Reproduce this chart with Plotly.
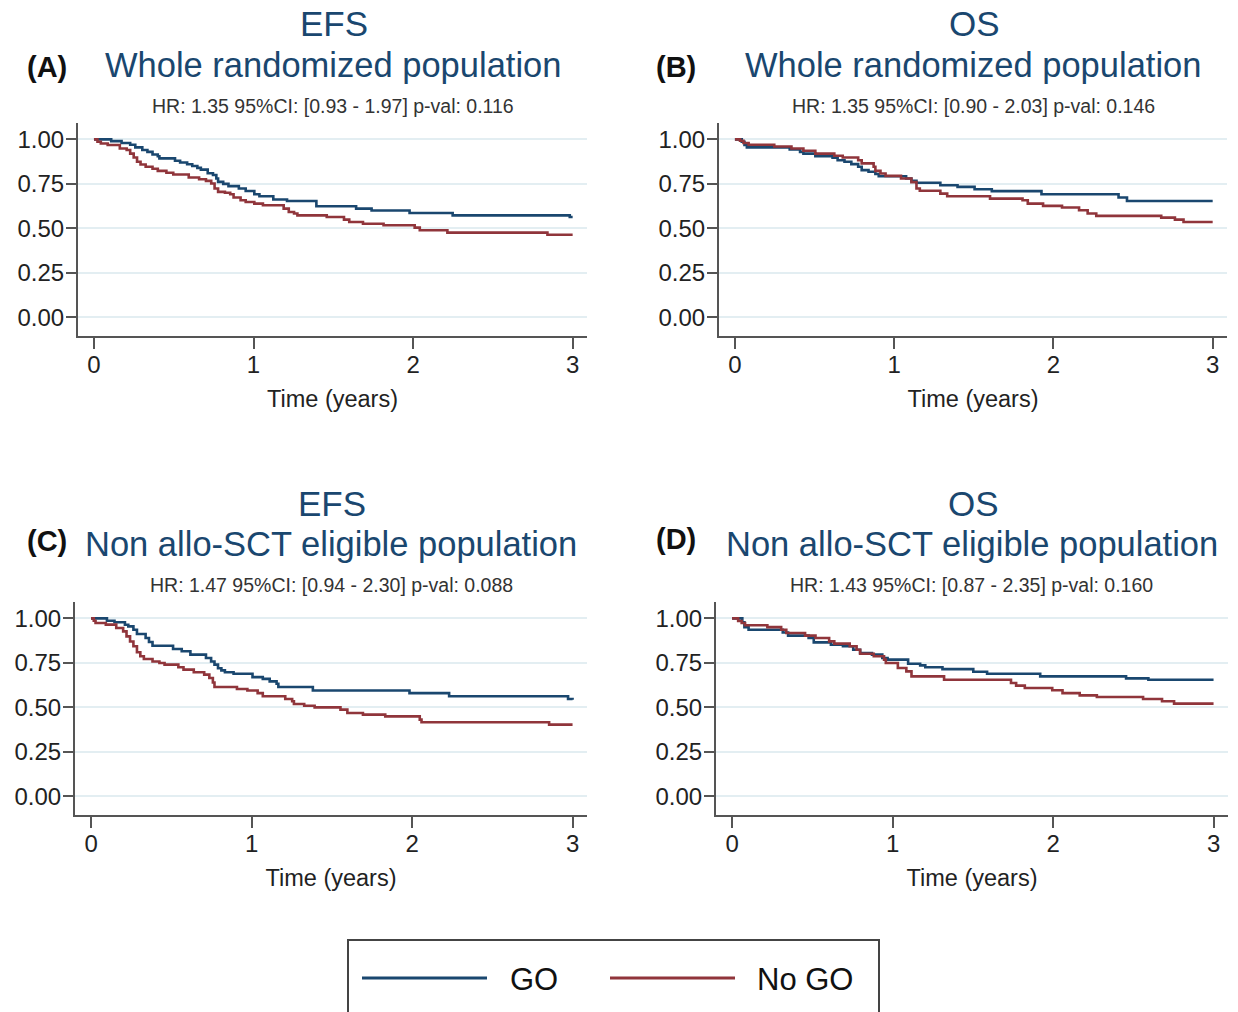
import plotly.graph_objects as go

# ---------------- data ----------------
# Panel A: EFS, whole randomized population
a_go_t = [0, 0.108, 0.173, 0.227, 0.259, 0.303, 0.335, 0.367, 0.40, 0.41, 0.508, 0.54, 0.584, 0.616, 0.648, 0.67, 0.713, 0.746, 0.767, 0.778, 0.81, 0.843, 0.908, 0.951, 1.005, 1.037, 1.124, 1.21, 1.394, 1.643, 1.74, 1.978, 2.248, 2.982, 3.0]
a_go_s = [1.0, 0.99, 0.98, 0.97, 0.955, 0.94, 0.93, 0.915, 0.905, 0.893, 0.88, 0.87, 0.86, 0.85, 0.84, 0.83, 0.81, 0.80, 0.78, 0.761, 0.75, 0.737, 0.724, 0.71, 0.692, 0.68, 0.662, 0.654, 0.624, 0.611, 0.60, 0.586, 0.573, 0.564, 0.564]
a_no_t = [0, 0.022, 0.043, 0.086, 0.162, 0.205, 0.227, 0.249, 0.27, 0.292, 0.324, 0.367, 0.40, 0.454, 0.497, 0.594, 0.659, 0.702, 0.735, 0.756, 0.778, 0.821, 0.854, 0.875, 0.919, 0.951, 1.005, 1.059, 1.189, 1.221, 1.254, 1.275, 1.459, 1.567, 1.60, 1.686, 1.815, 2.01, 2.042, 2.215, 2.842, 3.0]
a_no_s = [1.0, 0.987, 0.977, 0.968, 0.949, 0.94, 0.92, 0.898, 0.874, 0.859, 0.846, 0.835, 0.823, 0.812, 0.803, 0.786, 0.776, 0.767, 0.752, 0.724, 0.705, 0.70, 0.692, 0.673, 0.658, 0.648, 0.639, 0.63, 0.611, 0.592, 0.583, 0.573, 0.564, 0.549, 0.536, 0.526, 0.517, 0.504, 0.489, 0.476, 0.464, 0.464]

# Panel B: OS, whole randomized population
b_go_t = [0, 0.043, 0.06, 0.075, 0.344, 0.409, 0.43, 0.505, 0.613, 0.645, 0.688, 0.731, 0.774, 0.796, 0.839, 0.882, 0.903, 1.075, 1.108, 1.14, 1.29, 1.398, 1.505, 1.613, 1.925, 2.409, 2.462, 3.0]
b_go_s = [1.0, 0.987, 0.968, 0.955, 0.944, 0.93, 0.92, 0.906, 0.897, 0.883, 0.874, 0.861, 0.846, 0.827, 0.818, 0.805, 0.793, 0.78, 0.767, 0.756, 0.742, 0.733, 0.72, 0.709, 0.692, 0.673, 0.654, 0.654]
b_no_t = [0, 0.032, 0.054, 0.086, 0.247, 0.355, 0.43, 0.505, 0.624, 0.677, 0.774, 0.796, 0.871, 0.882, 0.914, 0.946, 1.043, 1.108, 1.14, 1.161, 1.29, 1.333, 1.602, 1.806, 1.839, 1.935, 2.054, 2.161, 2.215, 2.269, 2.677, 2.763, 2.817, 3.0]
b_no_s = [1.0, 0.992, 0.98, 0.97, 0.96, 0.949, 0.936, 0.92, 0.908, 0.898, 0.883, 0.865, 0.846, 0.823, 0.808, 0.795, 0.78, 0.76, 0.724, 0.711, 0.695, 0.68, 0.667, 0.658, 0.639, 0.626, 0.617, 0.602, 0.583, 0.57, 0.56, 0.549, 0.536, 0.536]

# Panel C: EFS, non allo-SCT eligible population
c_go_t = [0, 0.099, 0.146, 0.211, 0.232, 0.264, 0.286, 0.34, 0.361, 0.383, 0.511, 0.565, 0.619, 0.716, 0.748, 0.769, 0.791, 0.812, 0.834, 0.888, 1.006, 1.07, 1.113, 1.156, 1.167, 1.382, 1.984, 2.231, 2.972, 3.0]
c_go_s = [1.0, 0.987, 0.978, 0.964, 0.955, 0.936, 0.912, 0.89, 0.867, 0.846, 0.828, 0.815, 0.796, 0.777, 0.758, 0.74, 0.72, 0.708, 0.697, 0.689, 0.67, 0.66, 0.646, 0.633, 0.614, 0.595, 0.58, 0.562, 0.547, 0.543]
c_no_t = [0, 0.017, 0.028, 0.092, 0.157, 0.20, 0.221, 0.243, 0.264, 0.286, 0.307, 0.329, 0.383, 0.426, 0.458, 0.544, 0.576, 0.64, 0.705, 0.737, 0.759, 0.769, 0.909, 0.974, 1.038, 1.07, 1.21, 1.253, 1.264, 1.328, 1.393, 1.554, 1.597, 1.694, 1.833, 2.048, 2.059, 2.854, 3.0]
c_no_s = [1.0, 0.987, 0.974, 0.965, 0.946, 0.927, 0.899, 0.87, 0.843, 0.81, 0.787, 0.772, 0.758, 0.749, 0.74, 0.725, 0.712, 0.697, 0.684, 0.665, 0.64, 0.614, 0.603, 0.595, 0.58, 0.562, 0.547, 0.534, 0.519, 0.509, 0.50, 0.487, 0.468, 0.459, 0.449, 0.431, 0.416, 0.403, 0.403]

# Panel D: OS, non allo-SCT eligible population
d_go_t = [0, 0.064, 0.077, 0.103, 0.316, 0.349, 0.477, 0.509, 0.616, 0.691, 0.755, 0.798, 0.872, 0.936, 0.969, 1.097, 1.172, 1.204, 1.311, 1.503, 1.589, 1.92, 2.455, 2.594, 3.0]
d_go_s = [1.0, 0.978, 0.951, 0.936, 0.921, 0.903, 0.89, 0.865, 0.852, 0.843, 0.824, 0.805, 0.796, 0.777, 0.768, 0.745, 0.736, 0.725, 0.715, 0.70, 0.689, 0.674, 0.663, 0.655, 0.655]
d_no_t = [0, 0.038, 0.06, 0.081, 0.22, 0.306, 0.338, 0.455, 0.52, 0.605, 0.637, 0.733, 0.776, 0.798, 0.883, 0.947, 0.958, 1.033, 1.086, 1.118, 1.321, 1.738, 1.77, 1.824, 1.995, 2.059, 2.166, 2.273, 2.561, 2.679, 2.754, 3.0]
d_no_s = [1.0, 0.985, 0.974, 0.961, 0.951, 0.936, 0.918, 0.903, 0.89, 0.871, 0.858, 0.843, 0.824, 0.801, 0.787, 0.768, 0.749, 0.721, 0.702, 0.674, 0.655, 0.637, 0.622, 0.609, 0.596, 0.58, 0.567, 0.558, 0.547, 0.534, 0.521, 0.521]

panel_letters = ["(A)", "(B)", "(C)", "(D)"]
endpoints = ["EFS", "OS", "EFS", "OS"]
populations = ["Whole randomized population", "Whole randomized population",
               "Non allo-SCT eligible population", "Non allo-SCT eligible population"]
hr_texts = ["HR: 1.35 95%CI: [0.93 - 1.97] p-val: 0.116",
            "HR: 1.35 95%CI: [0.90 - 2.03] p-val: 0.146",
            "HR: 1.47 95%CI: [0.94 - 2.30] p-val: 0.088",
            "HR: 1.43 95%CI: [0.87 - 2.35] p-val: 0.160"]
group_names = ["GO", "No GO"]
y_tick_vals = [0, 0.25, 0.5, 0.75, 1.0]
y_tick_text = ["0.00", "0.25", "0.50", "0.75", "1.00"]
x_tick_vals = [0, 1, 2, 3]
x_title = "Time (years)"

# ---------------- styling / layout ----------------
W, H = 1238, 1012
BLUE = "#1a476f"
RED = "#90353b"
NAVY = "#1a476f"
FONT = "Liberation Sans, Arial, sans-serif"

def fx(p):
    return p / W

def fy(p):
    return 1 - p / H

# pixel boxes on the page: (left, right, top, bottom)
boxes = [(78, 587, 123, 336), (719, 1227, 123, 336),
         (75, 587, 602, 815), (716, 1228, 602, 815)]
letter_pos = [(47, 67), (676, 67), (47, 541), (676, 539)]
curves = [(a_go_t, a_go_s, a_no_t, a_no_s), (b_go_t, b_go_s, b_no_t, b_no_s),
          (c_go_t, c_go_s, c_no_t, c_no_s), (d_go_t, d_go_s, d_no_t, d_no_s)]

fig = go.Figure()
layout = dict(width=W, height=H, margin=dict(l=0, r=0, t=0, b=0),
              paper_bgcolor="white", plot_bgcolor="white",
              showlegend=False, font=dict(family=FONT, color="#222"))
annotations = []
shapes = []

for i in range(4):
    n = i + 1
    xa = "x" if n == 1 else f"x{n}"
    ya = "y" if n == 1 else f"y{n}"
    l, r, t, b = boxes[i]
    gt, gs, nt, ns = curves[i]
    fig.add_trace(go.Scatter(x=gt, y=gs, mode="lines", line=dict(color=BLUE, width=2.6, shape="hv"),
                             name=group_names[0], xaxis=xa, yaxis=ya))
    fig.add_trace(go.Scatter(x=nt, y=ns, mode="lines", line=dict(color=RED, width=2.6, shape="hv"),
                             name=group_names[1], xaxis=xa, yaxis=ya))
    layout["xaxis" if n == 1 else f"xaxis{n}"] = dict(
        domain=[fx(l), fx(r)], range=[-0.1, 3.09], anchor=ya,
        tickvals=x_tick_vals, ticks="outside", ticklen=11, tickwidth=2, tickcolor="#555",
        showline=True, linecolor="#555", linewidth=2, showgrid=False, zeroline=False,
        tickfont=dict(size=24, color="#222"), ticklabelstandoff=-5,
        title=dict(text=x_title, font=dict(size=23.5, color="#222"), standoff=14),
    )
    layout["yaxis" if n == 1 else f"yaxis{n}"] = dict(
        domain=[fy(b), fy(t)], range=[-0.105, 1.092], anchor=xa,
        tickvals=y_tick_vals, ticktext=y_tick_text, ticks="outside", ticklen=10, tickwidth=2,
        tickcolor="#555", showline=True, linecolor="#555", linewidth=2,
        showgrid=True, gridcolor="#e3eef2", gridwidth=1.5, zeroline=False,
        tickfont=dict(size=24, color="#222"), ticklabelstandoff=-3,
    )
    cx = (l + r) / 2
    annotations.append(dict(text=endpoints[i], x=fx(cx + 1), y=fy(t - 99), xref="paper", yref="paper",
                            showarrow=False, xanchor="center", yanchor="middle", borderpad=0,
                            font=dict(size=35, color=NAVY)))
    annotations.append(dict(text=populations[i], x=fx(cx), y=fy(t - 58), xref="paper", yref="paper",
                            showarrow=False, xanchor="center", yanchor="middle",
                            font=dict(size=34.5, color=NAVY)))
    annotations.append(dict(text=hr_texts[i], x=fx(cx), y=fy(t - 17), xref="paper", yref="paper",
                            showarrow=False, xanchor="center", yanchor="middle",
                            font=dict(size=19.5, color="#333")))
    lx, ly = letter_pos[i]
    annotations.append(dict(text="<b>" + panel_letters[i] + "</b>", x=fx(lx), y=fy(ly),
                            xref="paper", yref="paper", showarrow=False,
                            xanchor="center", yanchor="middle",
                            font=dict(size=29, color="#111")))

# legend box (Stata-style, drawn at bottom)
shapes.append(dict(type="rect", xref="paper", yref="paper", x0=fx(348), x1=fx(879),
                   y0=fy(1030), y1=fy(940), line=dict(color="#444", width=2), fillcolor="white"))
leg_items = [(BLUE, 362, 487, 508), (RED, 610, 735, 755)]
for (col, x0, x1, tx), name in zip(leg_items, group_names):
    shapes.append(dict(type="line", xref="paper", yref="paper", x0=fx(x0), x1=fx(x1),
                       y0=fy(978), y1=fy(978), line=dict(color=col, width=3)))
    annotations.append(dict(text=name, x=fx(tx), y=fy(979), xref="paper", yref="paper",
                            showarrow=False, xanchor="left", yanchor="middle",
                            font=dict(size=31, color="#111")))

layout["annotations"] = annotations
layout["shapes"] = shapes
fig.update_layout(**layout)
fig.write_html("out.html", config={"displayModeBar": False},
               post_script="document.body.style.margin='0';document.body.style.overflow='hidden';")
